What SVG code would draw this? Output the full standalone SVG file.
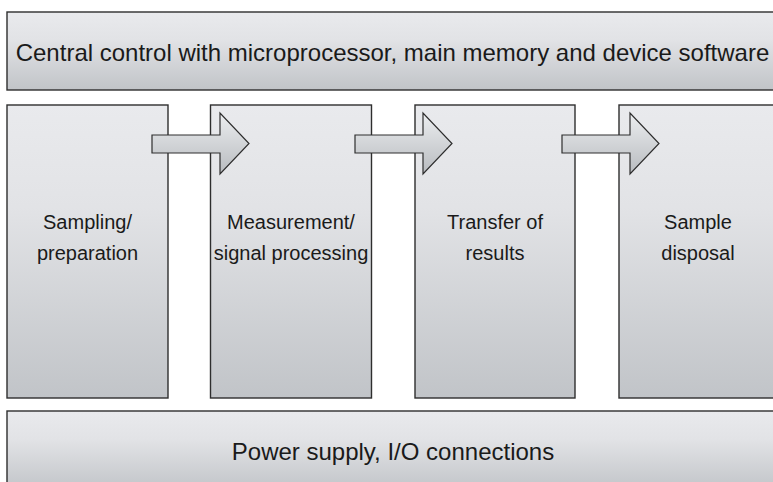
<svg xmlns="http://www.w3.org/2000/svg" width="773" height="482" viewBox="0 0 773 482">
  <defs>
    <linearGradient id="boxFill" x1="0" y1="0" x2="0" y2="1">
      <stop offset="0" stop-color="#e9eaed"/>
      <stop offset="0.35" stop-color="#e2e3e6"/>
      <stop offset="1" stop-color="#c1c4c8"/>
    </linearGradient>
    <linearGradient id="arrowFill" x1="0" y1="0" x2="0" y2="1">
      <stop offset="0" stop-color="#eceef0"/>
      <stop offset="1" stop-color="#b8bbbf"/>
    </linearGradient>
  </defs>
  <style>
    .box { fill: url(#boxFill); stroke: #2e2e2e; stroke-width: 1.4; }
    .arrow { fill: url(#arrowFill); stroke: #2e2e2e; stroke-width: 1.2; stroke-linejoin: miter; }
    .lbl { font-family: "Liberation Sans", Arial, Helvetica, sans-serif; fill: #1a1a1a; text-anchor: middle; }
    .big { font-size: 24px; }
    .small { font-size: 20px; }
  </style>
  <rect width="773" height="482" fill="#ffffff"/>

  <g id="central-control">
    <rect class="box" x="7" y="12" width="772" height="78"/>
    <text class="lbl big" x="392.5" y="61">Central control with microprocessor, main memory and device software</text>
  </g>

  <g id="sampling">
    <rect class="box" x="7" y="105" width="161" height="293"/>
    <text class="lbl small" x="87.5" y="229">Sampling/</text>
    <text class="lbl small" x="87.5" y="260">preparation</text>
  </g>

  <g id="measurement">
    <rect class="box" x="210.5" y="105" width="161" height="293"/>
    <text class="lbl small" x="291" y="229">Measurement/</text>
    <text class="lbl small" x="291" y="260">signal processing</text>
  </g>

  <g id="transfer">
    <rect class="box" x="415" y="105" width="160" height="293"/>
    <text class="lbl small" x="495" y="229">Transfer of</text>
    <text class="lbl small" x="495" y="260">results</text>
  </g>

  <g id="disposal">
    <rect class="box" x="619" y="105" width="161" height="293"/>
    <text class="lbl small" x="698" y="229">Sample</text>
    <text class="lbl small" x="698" y="260">disposal</text>
  </g>

  <g id="power-io">
    <rect class="box" x="7" y="411" width="772" height="80"/>
    <text class="lbl big" x="393" y="460">Power supply, I/O connections</text>
  </g>

  <g id="connectors">
    <path class="arrow" d="M152,135 H220 V113 L249,143.5 L220,174 V153 H152 Z"/>
    <path class="arrow" d="M355,135 H423 V113 L452,143.5 L423,174 V153 H355 Z"/>
    <path class="arrow" d="M562,135 H630 V113 L659,143.5 L630,174 V153 H562 Z"/>
  </g>
</svg>
